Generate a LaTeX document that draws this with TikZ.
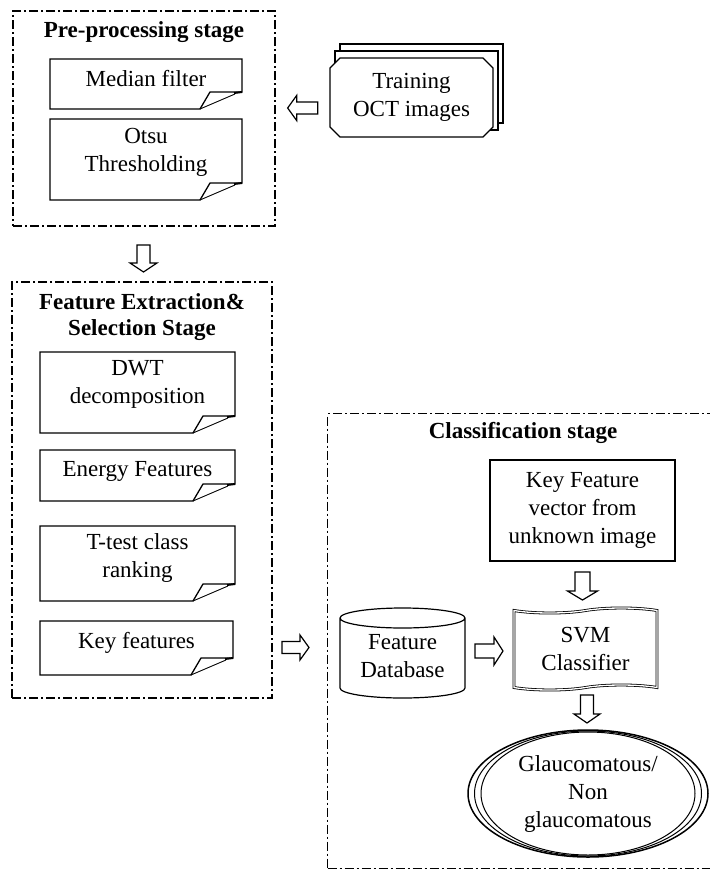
\documentclass[tikz,border=0pt]{standalone}
\usepackage{fontspec}
\setmainfont{Liberation Serif}
\usetikzlibrary{shapes.misc,shapes.symbols,shapes.geometric,calc}

\newcommand{\docoutline}[1]{%
  \draw[docline] (#1.north west) -- (#1.north east) -- ([yshift=17pt]#1.south east)
    -- ([xshift=-32pt,yshift=17pt]#1.south east) -- ([xshift=-42pt]#1.south east) -- (#1.south west) -- cycle;
  \draw[docline, line width=0.9pt] ([xshift=-42pt]#1.south east) -- ([xshift=-7pt,yshift=15pt]#1.south east);
  \draw[docline, line width=2pt] ([xshift=-8pt,yshift=16pt]#1.south east) -- ([yshift=17pt]#1.south east);
}
% block arrow: #1 node name, #2 rotation angle, #3 length, #4 head width, #5 shaft width
\newcommand{\blockarrow}[5]{%
  \begin{scope}[shift={(#1.center)}, rotate=#2, x=1pt, y=1pt]
    \draw[blkline] (-#3/2, #5/2) -- (#3/2-9, #5/2) -- (#3/2-9, #4/2) -- (#3/2, 0)
      -- (#3/2-9, -#4/2) -- (#3/2-9, -#5/2) -- (-#3/2, -#5/2) -- cycle;
  \end{scope}
}

\begin{document}
\begin{tikzpicture}[x=1pt,y=-1pt,
  txt/.style={font=\fontsize{23}{28}\selectfont, align=center, inner sep=0pt},
  ttl/.style={font=\fontsize{23}{26}\selectfont\bfseries, align=center, inner sep=0pt},
  stagebox/.style={draw, line width=1.8pt, dash pattern=on 9pt off 3pt on 2pt off 3pt, inner sep=0pt},
  classbox/.style={draw, line width=1.1pt, dash pattern=on 9pt off 3pt on 2pt off 3pt, inner sep=0pt},
  docnode/.style={inner sep=0pt, outer sep=0pt},
  docline/.style={line width=1.3pt, line join=miter},
  blkline/.style={line width=1.2pt, fill=white, line join=miter},
  anchorpt/.style={inner sep=0pt, minimum size=0pt},
  stackbox/.style={chamfered rectangle, chamfered rectangle xsep=5pt, chamfered rectangle ysep=5pt,
    draw, line width=1.2pt, fill=white, minimum width=163pt, minimum height=79pt, inner sep=0pt},
]
\useasboundingbox (0,0) rectangle (710,871);
\clip (0,0) rectangle (710,871);

% ---------- Pre-processing stage ----------
\node[stagebox, minimum width=262pt, minimum height=215pt] (pre) at (144,118.5) {};
\node[ttl] (preT) at (144,32) {Pre-processing stage};

\node[docnode, minimum width=192pt, minimum height=50pt] (med) at (146,84) {};
\docoutline{med}
\node[txt] (medT) at (146,79) {Median filter};

\node[docnode, minimum width=192pt, minimum height=81pt] (otsu) at (146,159.5) {};
\docoutline{otsu}
\node[txt] (otsuT) at (146,152) {Otsu\\Thresholding};

% ---------- Training images stack ----------
\node[stackbox] (train3) at (421.5,83.5) {};
\node[stackbox] (train2) at (416.5,90.5) {};
\node[stackbox, font=\fontsize{23}{28}\selectfont, align=center] (train) at (411.5,97.5) {Training\\OCT images};

\node[anchorpt] (a1) at ($(train.west)!0.5!(pre.east)+(0,0)$) {};
\blockarrow{a1}{180}{30}{25}{12}

% ---------- Feature extraction stage ----------
\node[stagebox, minimum width=260pt, minimum height=416pt] (feat) at (142,490) {};
\node[ttl] (featT) at (142,317) {Feature Extraction\&\\Selection Stage};

\node[anchorpt] (a2) at (143.5,258.5) {};
\blockarrow{a2}{-90}{27}{27}{13}

\node[docnode, minimum width=195pt, minimum height=81pt] (dwt) at (137.5,392.5) {};
\docoutline{dwt}
\node[txt] (dwtT) at (137.5,384) {DWT\\decomposition};

\node[docnode, minimum width=195pt, minimum height=51pt] (energy) at (137.5,475.5) {};
\docoutline{energy}
\node[txt] (energyT) at (137.5,471) {Energy Features};

\node[docnode, minimum width=195pt, minimum height=75pt] (ttest) at (137.5,563.5) {};
\docoutline{ttest}
\node[txt] (ttestT) at (137.5,558) {T-test class\\ranking};

\node[docnode, minimum width=193pt, minimum height=54pt] (key) at (136.5,648) {};
\docoutline{key}
\node[txt] (keyT) at (136.5,643) {Key features};

\node[anchorpt] (a3) at (295.5,647.5) {};
\blockarrow{a3}{0}{27}{25}{12}

% ---------- Classification stage ----------
\node[classbox, anchor=north west, minimum width=400pt, minimum height=455pt] (cls) at (327,413) {};
\node[ttl] (clsT) at (523,433) {Classification stage};

\node[draw, line width=1.2pt, minimum width=185pt, minimum height=101pt, txt] (kfv) at (582.5,510.5)
  {Key Feature\\vector from\\unknown image};

\node[tape, draw, double, double distance=1.3pt, line width=0.8pt, tape bend height=5pt,
  minimum width=143pt, minimum height=82pt, txt] (svm) at (585.5,649) {SVM\\Classifier};

\node[anchorpt] (a4) at (582.5,586) {};
\blockarrow{a4}{-90}{28}{30}{15}

\node[docnode, minimum width=125pt, minimum height=90pt] (db) at (402.5,653) {};
\draw[line width=1.2pt] ([yshift=-10pt]db.north west) -- ([yshift=10pt]db.south west)
  arc[start angle=180, end angle=360, x radius=62.5pt, y radius=10pt]
  -- ([yshift=-10pt]db.north east)
  arc[start angle=0, end angle=180, x radius=62.5pt, y radius=10pt]
  arc[start angle=180, end angle=360, x radius=62.5pt, y radius=10pt];
\node[txt] (dbT) at (402.5,656) {Feature\\Database};

\node[anchorpt] (a5) at (489,651) {};
\blockarrow{a5}{0}{28}{28}{14}

\node[anchorpt] (a6) at (587,709) {};
\blockarrow{a6}{-90}{28}{26}{13}

\node[ellipse, draw, line width=1.5pt, minimum width=240pt, minimum height=127pt, inner sep=0pt] (out) at (588,793.5) {};
\node[ellipse, draw, line width=1pt, minimum width=227pt, minimum height=125pt, inner sep=0pt] (out2) at (588,793.5) {};
\node[ellipse, draw, line width=1pt, minimum width=214pt, minimum height=123pt, inner sep=0pt] (out3) at (588,793.5) {};
\node[txt] (outT) at (588,794) {Glaucomatous/\\Non\\glaucomatous};
\end{tikzpicture}
\end{document}
